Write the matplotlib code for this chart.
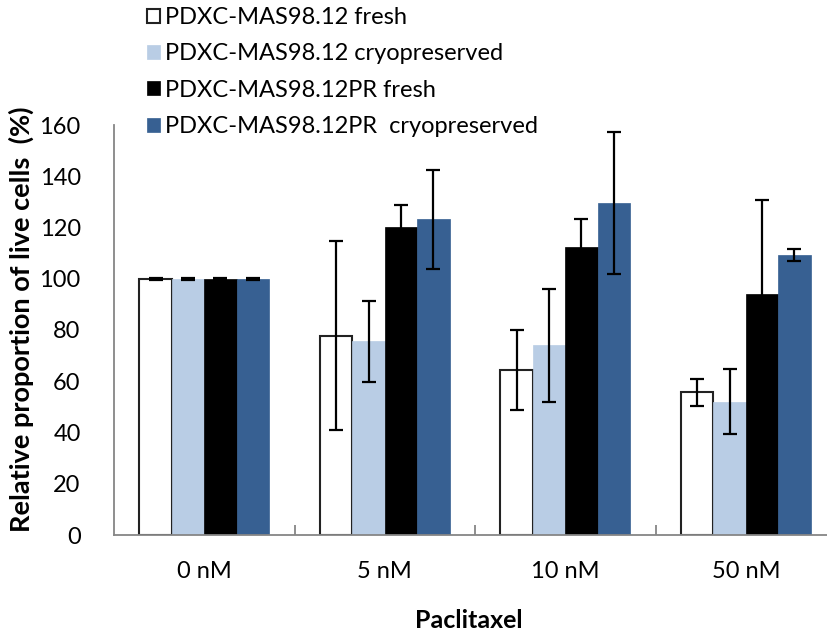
import numpy as np
import matplotlib
matplotlib.use("Agg")
import matplotlib.pyplot as plt

plt.rcParams['font.family'] = ['Lato', 'DejaVu Sans']

# data
categories = ['0 nM', '5 nM', '10 nM', '50 nM']
series = ['PDXC-MAS98.12 fresh', 'PDXC-MAS98.12 cryopreserved',
          'PDXC-MAS98.12PR fresh', 'PDXC-MAS98.12PR  cryopreserved']
fresh = [100, 77.8, 64.4, 55.7]
fresh_err = [0.4, 37.0, 15.6, 5.3]
cryo = [100, 75.6, 74.0, 52.0]
cryo_err = [0.4, 15.8, 22.0, 12.6]
pr_fresh = [100, 120.3, 112.5, 93.9]
pr_fresh_err = [0.4, 8.5, 10.8, 37.0]
pr_cryo = [100, 123.3, 129.4, 109.3]
pr_cryo_err = [0.4, 19.3, 27.7, 2.2]

values = [fresh, cryo, pr_fresh, pr_cryo]
errors = [fresh_err, cryo_err, pr_fresh_err, pr_cryo_err]
colors = ['white', '#B9CDE5', 'black', '#376092']
edges = ['#222222', '#B9CDE5', 'black', '#376092']

fig = plt.figure(figsize=(8.27, 6.35), dpi=100)
ax = fig.add_axes([114 / 827, 100 / 635, 722 / 827, 410 / 635])

x = np.arange(len(categories))
width = 0.18
for i in range(4):
    pos = x + (i - 1.5) * width
    ax.bar(pos, values[i], width, color=colors[i], edgecolor=edges[i],
           linewidth=1.5 if i == 0 else 0.5, label=series[i], zorder=2)
    ax.errorbar(pos, values[i], yerr=errors[i], fmt='none', ecolor='black',
                elinewidth=1.6, capsize=4.8, capthick=1.6, zorder=3)

ax.set_xlim(-0.5, 3.5)
ax.set_ylim(0, 160)
ax.set_yticks(range(0, 161, 20))
ax.set_xticks(x)
ax.set_xticklabels(categories)
ax.set_xticks([0.5, 1.5, 2.5, 3.5], minor=True)
ax.tick_params(axis='x', which='major', length=0, pad=19, labelsize=17)
ax.tick_params(axis='x', which='minor', direction='in', length=7,
               color='#868686', width=1.3)
ax.tick_params(axis='y', length=0, pad=24, labelsize=17)
for side in ['top', 'right']:
    ax.spines[side].set_visible(False)
for side in ['left', 'bottom']:
    ax.spines[side].set_color('#868686')
    ax.spines[side].set_linewidth(1.3)

ax.set_ylabel('Relative proportion of live cells  (%)', fontsize=19.5,
              fontweight='bold')
ax.yaxis.set_label_coords(-0.111, 0.525)
ax.set_xlabel('Paclitaxel', fontsize=18, fontweight='bold')
ax.xaxis.set_label_coords(0.492, -0.18)

fig.legend(loc='upper left', bbox_to_anchor=(147 / 827, 628 / 635),
           frameon=False, fontsize=17, handlelength=0.55, handleheight=0.55,
           handletextpad=0.2, labelspacing=0.65, borderpad=0,
           borderaxespad=0)

fig.savefig('out.png', dpi=100)
